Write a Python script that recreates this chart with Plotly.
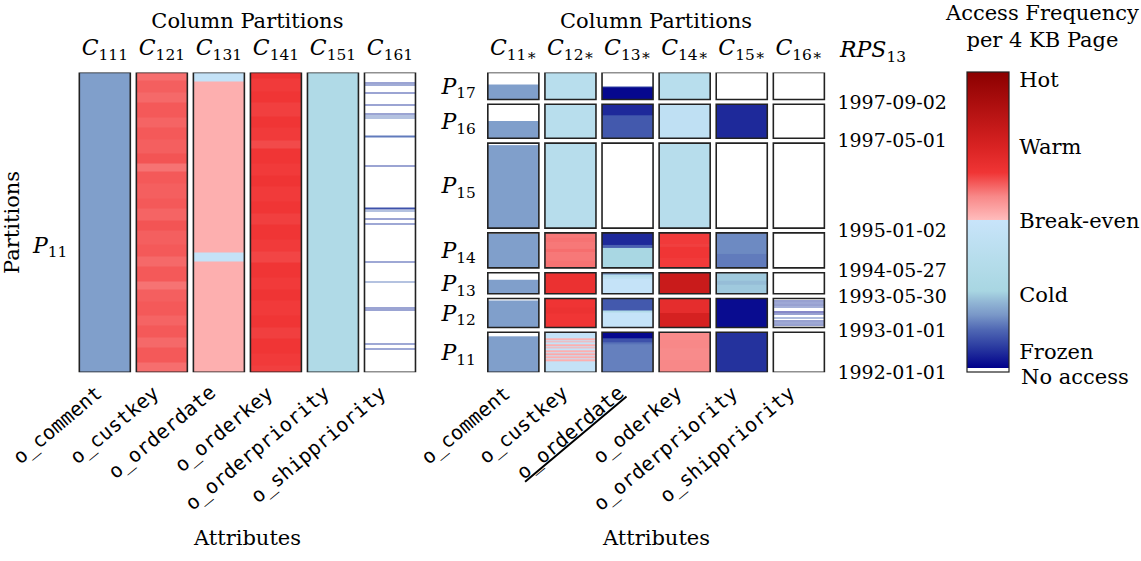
import plotly.graph_objects as go

W, H = 1141, 561

# ---------------- data ----------------
attributes_left = ["o_comment", "o_custkey", "o_orderdate", "o_orderkey",
                   "o_orderpriority", "o_shippriority"]
attributes_right = ["o_comment", "o_custkey", "<u>o_orderdate</u>", "o_oderkey",
                    "o_orderpriority", "o_shippriority"]
column_ids_left = ["111", "121", "131", "141", "151", "161"]
column_ids_right = ["11∗", "12∗", "13∗", "14∗", "15∗", "16∗"]
partition_ids = ["11", "12", "13", "14", "15", "16", "17"]
partition_pages = [40, 29, 21, 35, 85, 34, 27]          # relative size P11..P17
boundary_dates = ["1992-01-01", "1993-01-01", "1993-05-30", "1994-05-27",
                  "1995-01-02", "1997-05-01", "1997-09-02"]
heat_labels = ["Frozen", "Cold", "Break-even", "Warm", "Hot"]
heat_values = [0.055, 0.25, 0.5, 0.75, 0.975]

# Left: single partition P11, 300 pages; runs of (pages, heat) from top to bottom; None = no access
left_total_pages = 300
left_c111 = [(300, 0.19)]
left_c121 = [(8, 0.605), (12, 0.62), (10, 0.61), (14, 0.625), (10, 0.615), (12, 0.625),
             (14, 0.62), (10, 0.63), (8, 0.6), (12, 0.625), (14, 0.62), (10, 0.625),
             (12, 0.615), (10, 0.63), (14, 0.62), (12, 0.625), (10, 0.61), (14, 0.625),
             (8, 0.6), (12, 0.62), (14, 0.625), (10, 0.615), (12, 0.625), (10, 0.61),
             (14, 0.625), (10, 0.605)]
left_c131 = [(9, 0.47), (171, 0.52), (9, 0.47), (111, 0.52)]
left_c141 = [(6, 0.67), (12, 0.655), (10, 0.66), (14, 0.65), (10, 0.66), (12, 0.655),
             (8, 0.64), (14, 0.66), (12, 0.655), (10, 0.665), (14, 0.655), (12, 0.66),
             (10, 0.65), (14, 0.66), (12, 0.655), (10, 0.645), (14, 0.66), (12, 0.655),
             (10, 0.665), (14, 0.655), (12, 0.66), (10, 0.65), (14, 0.66), (12, 0.655),
             (6, 0.65)]
left_c151 = [(300, 0.32)]
left_c161_lines = [(10, 0.09), (12, 0.11), (20, 0.09), (32, 0.09), (41, 0.09), (43, 0.16),
                   (45, 0.16), (63, 0.15), (64, 0.15), (93, 0.09), (135, 0.1), (136, 0.1),
                   (138, 0.16), (146, 0.09), (151, 0.1), (189, 0.1), (209, 0.16),
                   (235, 0.09), (237, 0.09), (271, 0.1), (276, 0.1)]

# Right: partitions P11..P17, each cell = runs of (fraction, heat) from top to bottom
p17_cells = [[(0.45, None), (0.55, 0.19)], [(1, 0.38)], [(0.5, None), (0.06, 0.08), (0.44, 0.01)],
             [(1, 0.38)], [(1, None)], [(1, None)]]
p16_cells = [[(0.5, None), (0.5, 0.19)], [(1, 0.38)], [(0.32, 0.05), (0.68, 0.11)],
             [(1, 0.43)], [(1, 0.05)], [(1, None)]]
p15_cells = [[(0.02, None), (0.98, 0.19)], [(1, 0.37)], [(1, None)],
             [(1, 0.37)], [(1, None)], [(1, None)]]
p14_cells = [[(0.04, None), (0.96, 0.19)],
             [(0.15, 0.595), (0.1, 0.6), (0.2, 0.595), (0.1, 0.605), (0.25, 0.595), (0.2, 0.6)],
             [(0.34, 0.05), (0.08, 0.12), (0.58, 0.27)],
             [(0.3, 0.655), (0.1, 0.65), (0.3, 0.66), (0.3, 0.655)],
             [(0.6, 0.165), (0.4, 0.15)], [(1, None)]]
p13_cells = [[(0.35, None), (0.65, 0.19)], [(1, 0.68)],
             [(0.08, 0.19), (0.1, 0.36), (0.12, 0.42), (0.7, 0.48)],
             [(1, 0.8)], [(0.4, 0.245), (0.15, 0.23), (0.45, 0.245)], [(1, None)]]
p12_cells = [[(0.07, None), (0.93, 0.19)], [(0.3, 0.665), (0.2, 0.675), (0.5, 0.66)],
             [(0.4, 0.11), (0.08, 0.33), (0.52, 0.48)], [(0.5, 0.7), (0.5, 0.76)],
             [(1, 0.015)],
             [(0.06, None), (0.035, 0.08), (0.045, None), (0.035, 0.1), (0.035, None),
              (0.035, 0.08), (0.05, None), (0.035, 0.12), (0.11, None), (0.05, 0.02),
              (0.05, None), (0.035, 0.08), (0.09, None), (0.05, 0.15), (0.06, None),
              (0.035, 0.08), (0.035, None), (0.035, 0.1), (0.035, None), (0.035, 0.08),
              (0.065, None)]]
p11_cells = [[(0.11, None), (0.89, 0.19)],
             [(0.15, 0.47), (0.04, 0.52), (0.03, 0.47), (0.04, 0.52), (0.03, 0.47),
              (0.05, 0.52), (0.03, 0.47), (0.04, 0.52), (0.04, 0.47), (0.05, 0.52),
              (0.03, 0.47), (0.04, 0.53), (0.03, 0.47), (0.05, 0.52), (0.03, 0.47),
              (0.04, 0.52), (0.28, 0.47)],
             [(0.16, 0.01), (0.08, 0.1), (0.06, 0.14), (0.7, 0.155)],
             [(0.2, 0.575), (0.2, 0.58), (0.3, 0.575), (0.3, 0.58)],
             [(1, 0.06)], [(1, None)]]
right_cells = [p11_cells, p12_cells, p13_cells, p14_cells, p15_cells, p16_cells, p17_cells]

# ---------------- style ----------------
SERIF = "DejaVu Serif"
MONO = "DejaVu Sans Mono"
BORDER = "#222222"
HW = 0.447            # half width of a column box (axis units)
GAP = 4.8             # gap between partitions (axis units)
CMIN = -0.0135
stops = [(CMIN, "#ffffff"), (-0.0001, "#ffffff"), (0.0, "#00008b"), (0.07, "#2a3aa0"),
         (0.13, "#5068b4"), (0.18, "#7a98c8"), (0.22, "#90b4d4"), (0.26, "#a8d6e2"),
         (0.35, "#b4dcea"), (0.4999, "#c8e4fa"), (0.5001, "#ffbcbc"), (0.58, "#f88888"),
         (0.66, "#f03535"), (0.75, "#d82222"), (0.88, "#b01010"), (1.0, "#8b0000")]
colorscale = [[(v - CMIN) / (1 - CMIN), c] for v, c in stops]

PLOT_TOP, PLOT_BOT = 72.5, 372.3
ydom = [1 - PLOT_BOT / H, 1 - PLOT_TOP / H]
xdom_left = [76.3 / W, 418.5 / W]
xdom_right = [484.8 / W, 827.4 / W]

fig = go.Figure()


def lines_to_runs(lines, total):
    runs, pos = [], 0
    for page, v in sorted(lines):
        if page > pos:
            runs.append((page - pos, None))
        runs.append((1, v))
        pos = page + 1
    if pos < total:
        runs.append((total - pos, None))
    return runs


def add_cell(xa, ya, col, y_top, height, runs):
    total = sum(r[0] for r in runs)
    edges, vals, y = [y_top], [], y_top
    for w, v in runs:
        y -= height * w / total
        edges.append(y)
        vals.append(v)
    edges, vals = edges[::-1], vals[::-1]
    if any(v is not None for v in vals):
        fig.add_trace(go.Heatmap(x=[col - HW, col + HW], y=edges, z=[[v] for v in vals],
                                 coloraxis="coloraxis", xaxis=xa, yaxis=ya,
                                 hoverinfo="skip", showscale=False))
    fig.add_shape(type="rect", xref=xa, yref=ya, x0=col - HW, x1=col + HW,
                  y0=y_top - height, y1=y_top, line=dict(color=BORDER, width=1.6),
                  layer="above")


# left panel
left_cols = [left_c111, left_c121, left_c131, left_c141, left_c151,
             lines_to_runs(left_c161_lines, left_total_pages)]
for i, runs in enumerate(left_cols):
    add_cell("x", "y", i, left_total_pages, left_total_pages, runs)

# right panel
bottoms = []
acc = 0.0
for k, size in enumerate(partition_pages):
    bottoms.append(acc)
    acc += size + GAP
right_total = acc - GAP
for k, cells in enumerate(right_cells):
    top = bottoms[k] + partition_pages[k]
    for i, runs in enumerate(cells):
        add_cell("x2", "y2", i, top, partition_pages[k], runs)

# invisible helpers for overlaid axes
for xa, ya in [("x3", "y"), ("x4", "y2"), ("x2", "y3")]:
    fig.add_trace(go.Scatter(x=[0], y=[1], mode="markers", marker=dict(opacity=0),
                             xaxis=xa, yaxis=ya, hoverinfo="skip", showlegend=False))

date_ticks = [0.0] + [bottoms[k] - GAP / 2 for k in range(1, len(partition_pages))]
part_centers = [bottoms[k] + partition_pages[k] / 2 for k in range(len(partition_pages))]

FS = 21
tick_serif = dict(family=SERIF, size=FS, color="black")
common_x = dict(range=[-0.5, 5.5], showgrid=False, zeroline=False, showline=False,
                ticks="", fixedrange=True, automargin=False)
common_y = dict(showgrid=False, zeroline=False, showline=False, ticks="", fixedrange=True,
                automargin=False)
mono = dict(family=MONO, size=20, color="black")
col_font = dict(family=SERIF, size=22, color="black")

fig.update_layout(
    width=W, height=H, margin=dict(l=0, r=0, t=0, b=0, autoexpand=False),
    paper_bgcolor="white", plot_bgcolor="white", showlegend=False,
    xaxis=dict(common_x, domain=xdom_left, anchor="y", showticklabels=False),
    xaxis2=dict(common_x, domain=xdom_right, anchor="y2", showticklabels=False),
    xaxis3=dict(common_x, overlaying="x", anchor="y", side="top", tickvals=list(range(6)),
                ticktext=["<i>C</i><sub>%s</sub>" % c for c in column_ids_left],
                tickfont=col_font, ticklabelstandoff=12,
                title=dict(text="Column Partitions", font=tick_serif, standoff=0)),
    xaxis4=dict(common_x, overlaying="x2", anchor="y2", side="top", tickvals=list(range(6)),
                ticktext=["<i>C</i><sub>%s</sub>" % c for c in column_ids_right],
                tickfont=col_font, ticklabelstandoff=12,
                title=dict(text="Column Partitions", font=tick_serif, standoff=0)),
    yaxis=dict(common_y, domain=ydom, anchor="x", range=[0, left_total_pages],
               tickvals=[127.5], ticktext=["<i>P</i><sub>11</sub>"], tickfont=col_font,
               ticklabelstandoff=8,
               title=dict(text="Partitions", font=tick_serif, standoff=6)),
    yaxis2=dict(common_y, domain=ydom, anchor="x2", range=[0, right_total],
                tickvals=part_centers, ticklabelstandoff=8,
                ticktext=["<i>P</i><sub>%s</sub>" % p for p in partition_ids],
                tickfont=col_font),
    yaxis3=dict(common_y, overlaying="y2", anchor="x2", side="right", range=[0, right_total],
                tickvals=date_ticks, ticktext=boundary_dates,
                tickfont=dict(family=SERIF, size=19, color="black"), ticklabelstandoff=9),
    coloraxis=dict(
        colorscale=colorscale, cmin=CMIN, cmax=1,
        colorbar=dict(x=967 / W, xanchor="left", y=1 - 72.3 / H, yanchor="top",
                      len=300 / H, lenmode="fraction", thickness=42, thicknessmode="pixels",
                      xpad=0, ypad=0, outlinewidth=1.2, outlinecolor=BORDER,
                      tickvals=heat_values, ticktext=heat_labels, ticks="outside",
                      ticklen=6, tickcolor="rgba(0,0,0,0)",
                      tickfont=tick_serif)),
)

# rotated attribute labels under each column
for xa, names in [("x", attributes_left), ("x2", attributes_right)]:
    for i, name in enumerate(names):
        fig.add_annotation(x=i, y=1 - 378 / H, xref=xa, yref="paper", text=name,
                           textangle=-40, xanchor="right", yanchor="top", xshift=4,
                           showarrow=False, font=mono)
    fig.add_annotation(x=2.5, y=1 - 538 / H, xref=xa, yref="paper", text="Attributes",
                       xanchor="center", yanchor="middle", showarrow=False, font=tick_serif)

# colorbar small tick marks at Warm and Cold
for v in [0.25, 0.75]:
    ypx = 372.3 - (v - CMIN) / (1 - CMIN) * 300
    yp = 1 - ypx / H
    for x0, x1 in [(967, 973), (1003, 1009)]:
        fig.add_shape(type="line", xref="paper", yref="paper", x0=x0 / W, x1=x1 / W,
                      y0=yp, y1=yp, line=dict(color="#333333", width=1))

fig.add_annotation(x=837 / W, y=1 - 51 / H, xref="paper", yref="paper", xanchor="left",
                   yanchor="middle", showarrow=False, text="<i>RPS</i><sub>13</sub>",
                   font=col_font)
fig.add_annotation(x=1019 / W, y=1 - 377 / H, xref="paper", yref="paper", xanchor="left",
                   yanchor="middle", showarrow=False, text="No access", font=tick_serif)
fig.add_annotation(x=1042 / W, y=1 - 26 / H, xref="paper", yref="paper", xanchor="center",
                   yanchor="middle", showarrow=False,
                   text="Access Frequency<br>per 4 KB Page", font=tick_serif)

fig.write_html("out.html")
